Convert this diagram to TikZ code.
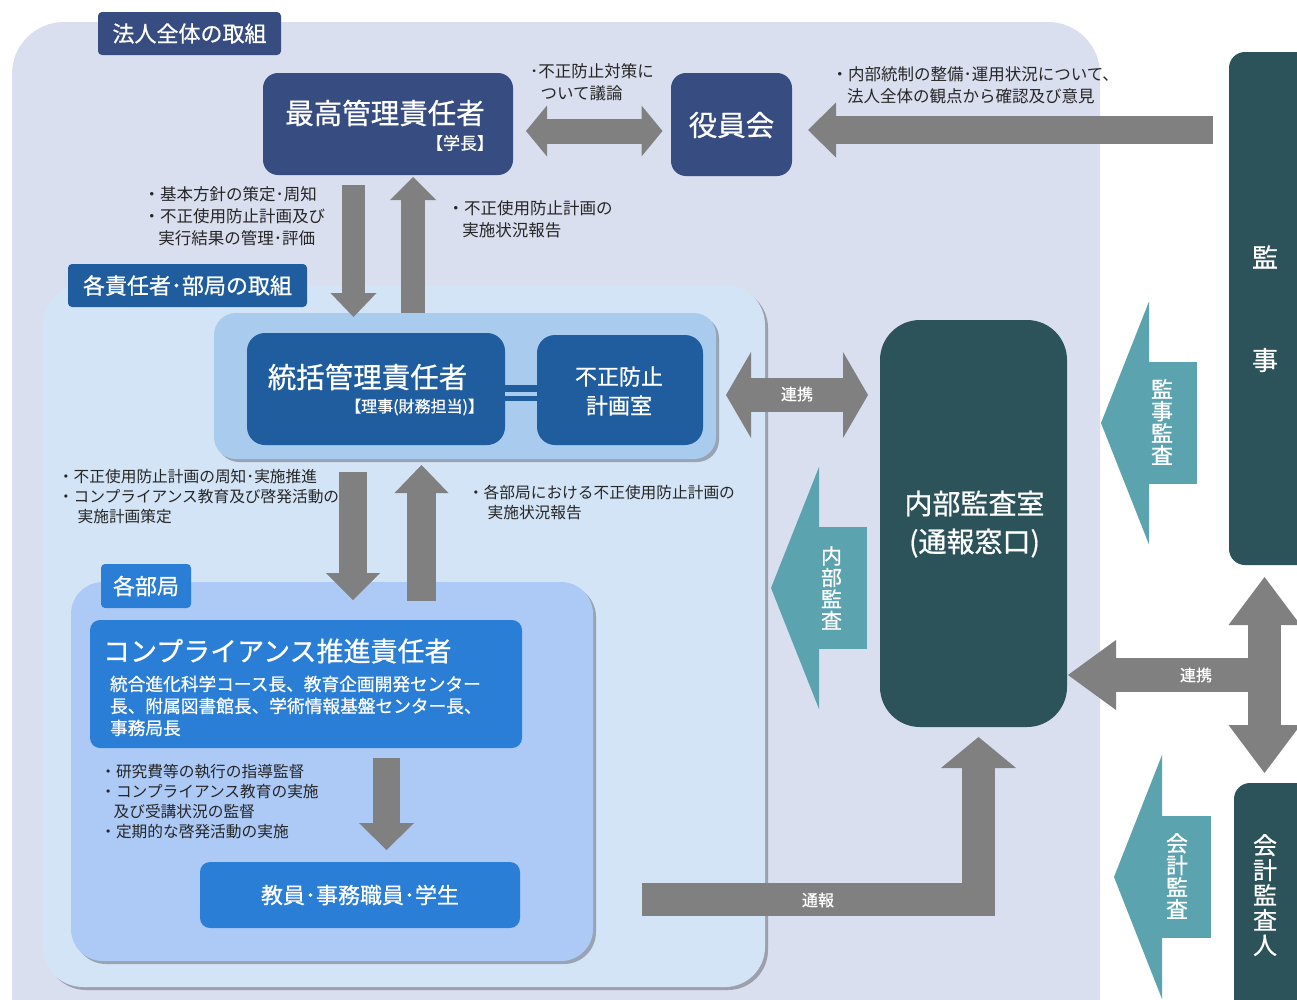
\documentclass[tikz,border=0pt]{standalone}
\usepackage{fontspec}
\setmainfont{Noto Sans CJK JP}
\newfontfamily\wf{Noto Sans CJK JP}[FakeBold=0.7]
\usetikzlibrary{arrows.meta,calc,shadows}
\definecolor{lav}{HTML}{DADFEF}
\definecolor{lblue}{HTML}{D3E4F6}
\definecolor{cblue}{HTML}{A9CBEE}
\definecolor{kblue}{HTML}{ADCAF7}
\definecolor{navy}{HTML}{374C80}
\definecolor{mblue}{HTML}{1F5D9E}
\definecolor{bblue}{HTML}{2B7ED5}
\definecolor{dteal}{HTML}{2C535A}
\definecolor{lteal}{HTML}{5BA3AF}
\definecolor{agray}{HTML}{808080}
\definecolor{txt}{HTML}{262626}
\newcommand{\fsz}[2]{\fontsize{#1}{#2}\selectfont}
\begin{document}
\begin{tikzpicture}[x=1pt,y=-1pt,
  box/.style={draw=none,inner sep=0pt,outer sep=0pt,anchor=north west},
  shad/.style={drop shadow={shadow xshift=3pt,shadow yshift=-3pt,fill=black,opacity=0.28}},
  wt/.style={text=white,inner sep=0pt,outer sep=0pt,execute at begin node=\wf},
  bt/.style={text=txt,inner sep=0pt,outer sep=0pt,align=left,anchor=north west},
  vt/.style={text=white,inner sep=0pt,outer sep=0pt,align=center,execute at begin node=\wf},
  garr/.style={draw=agray,line cap=butt,line join=miter},
  tarr/.style={draw=lteal,line cap=butt,line join=miter,line width=122pt}
]
\clip (0,0) rectangle (1297,999);
\fill[white] (0,0) rectangle (1297,999);

% ---------- background regions ----------
\node[box,fill=lav,rounded corners=52pt,minimum width=1088pt,minimum height=1060pt] (hojin) at (12,22) {};
\node[fill=navy,rounded corners=4pt,inner sep=0pt,minimum width=183pt,minimum height=43pt,wt,font=\fsz{22}{24}] (hojinlab) at (189.5,33.5) {法人全体の取組};

\node[box,fill=dteal,rounded corners=16pt,minimum width=100pt,minimum height=513pt] (kanji) at (1229,52) {};
\node[box,fill=dteal,rounded corners=16pt,minimum width=100pt,minimum height=300pt] (kaikei) at (1234,783) {};

\node[box,fill=lblue,rounded corners=40pt,minimum width=722pt,minimum height=702pt,shad] (kaku) at (43,285) {};
\node[fill=mblue,rounded corners=4pt,inner sep=0pt,minimum width=239pt,minimum height=43pt,wt,font=\fsz{22}{24}] (kakulab) at (187.5,285.5) {各責任者･部局の取組};

% ---------- top level boxes ----------
\node[box,fill=navy,rounded corners=15pt,minimum width=250pt,minimum height=102pt] (saiko) at (263,73) {};
\node[wt,font=\fsz{28.5}{30}] (saikot) at (385,113) {最高管理責任者};
\node[wt,font=\fsz{17}{18},anchor=east] (saikos) at (494,143) {【学長】};

\node[box,fill=navy,rounded corners=15pt,minimum width=121pt,minimum height=103pt] (yakuin) at (671,73) {};
\node[wt,font=\fsz{28.5}{30}] (yakuint) at (731.5,125) {役員会};

% ---------- 統括 ----------
\node[box,fill=cblue,rounded corners=22pt,minimum width=502pt,minimum height=146pt,shad] (sou) at (214,313) {};
\node[box,fill=mblue,rounded corners=18pt,minimum width=258pt,minimum height=112pt] (touk) at (247,333) {};
\node[box,fill=mblue,rounded corners=18pt,minimum width=166pt,minimum height=110pt] (fusei) at (537,335) {};
\fill[mblue] (touk.east |- 0,385) rectangle (fusei.west |- 0,401);
\fill[cblue] (touk.east |- 0,392) rectangle (fusei.west |- 0,395.5);
\node[wt,font=\fsz{28.5}{30}] (toukt) at (367.5,377) {統括管理責任者};
\node[wt,font=\fsz{16}{18},anchor=east] (touks) at (484,407) {【理事(財務担当)】};
\node[vt,font=\fsz{22}{29}] (fuseit) at (619,391) {不正防止\\計画室};

% ---------- 各部局 ----------
\node[box,fill=kblue,rounded corners=32pt,minimum width=522pt,minimum height=379pt,shad] (kakubu) at (71,582) {};
\node[fill=bblue,rounded corners=4pt,inner sep=0pt,minimum width=90pt,minimum height=44pt,wt,font=\fsz{22}{24}] (kakubulab) at (146,586) {各部局};
\node[box,fill=bblue,rounded corners=10pt,minimum width=432pt,minimum height=128pt] (comp) at (90,620) {};
\node[wt,font=\fsz{27}{29},anchor=west] (compt) at (103,651) {コンプライアンス推進責任者};
\node[wt,font=\fsz{17.7}{22},align=left,anchor=north west] (compb) at (110,675.7) {統合進化科学コース長、教育企画開発センター\\長、附属図書館長、学術情報基盤センター長、\\事務局長};
\node[box,fill=bblue,rounded corners=10pt,minimum width=320pt,minimum height=66pt] (kyoin) at (200,862) {};
\node[wt,font=\fsz{22}{24}] (kyoint) at (360,895) {教員･事務職員･学生};

% ---------- 内部監査室 ----------
\node[box,fill=dteal,rounded corners=40pt,minimum width=187pt,minimum height=407pt] (naibu) at (880,320) {};
\node[vt,font=\fsz{28}{38}] (naibut) at (974.5,524) {内部監査室\\(通報窓口)};

% ---------- 監事 / 会計監査人 texts ----------
\node[wt,font=\fsz{26}{28}] (kanji1) at (1265,257) {監};
\node[wt,font=\fsz{26}{28}] (kanji2) at (1265,360) {事};
\node[vt,font=\fsz{24}{25}] (kaikeit) at (1265,895) {会\\計\\監\\査\\人};

% ---------- teal arrows ----------
\coordinate (t1end) at ($(kaku.east)+(6,-48)$);
\draw[tarr,-{Triangle[width=242pt,length=48pt,line width=0pt]}] ($(naibu.west)+(-13,64.5)$) -- (t1end);
\node[vt,font=\fsz{21}{21.5}] (t1t) at (831.5,588) {内\\部\\監\\査};
\draw[tarr,-{Triangle[width=243pt,length=48pt,line width=0pt]}] ($(kanji.west)+(-32,114.5)$) -- ($(naibu.east)+(34,-100.5)$);
\node[vt,font=\fsz{22}{22}] (t2t) at (1162,422) {監\\事\\監\\査};
\coordinate (t3end) at (1114,877);
\draw[tarr,-{Triangle[width=244pt,length=48pt,line width=0pt]}] ($(kaikei.west)+(-23,-56)$) -- (t3end);
\node[vt,font=\fsz{22}{22}] (t3t) at (1177,876) {会\\計\\監\\査};

% ---------- gray arrows ----------
% 最高 <-> 役員会
\draw[garr,line width=25pt,{Triangle[width=51pt,length=21pt,line width=0pt]}-{Triangle[width=51pt,length=21pt,line width=0pt]}]
  ($(saiko.east)+(13,7)$) -- ($(yakuin.west)+(-8.5,6.5)$);
% 監事 -> 役員会
\draw[garr,line width=28pt,-{Triangle[width=55pt,length=28pt,line width=0pt]}]
  ($(kanji.north west)+(-16,78)$) -- ($(yakuin.east)+(16,5.5)$);
% 最高 -> 統括
\draw[garr,line width=23pt,-{Triangle[width=46pt,length=24pt,line width=0pt]}]
  ($(saiko.south)+(-34.5,10)$) -- ($(sou.north)+(-111.5,4)$);
% 統括 -> 最高
\draw[garr,line width=24pt,-{Triangle[width=46pt,length=23pt,line width=0pt]}]
  ($(sou.north)+(-52,0)$) -- ($(saiko.south)+(25,2)$);
% 統括 <-> 内部監査室
\draw[garr,line width=34pt,{Triangle[width=86pt,length=25pt,line width=0pt]}-{Triangle[width=86pt,length=25pt,line width=0pt]}]
  ($(sou.east)+(10,9)$) -- ($(naibu.north west)+(-12,75)$);
\node[wt,font=\fsz{16}{18}] (ren1) at (797,394) {連携};
% 統括 -> 各部局
\draw[garr,line width=28pt,-{Triangle[width=54pt,length=27pt,line width=0pt]}]
  ($(sou.south)+(-112,13)$) -- ($(kakubu.north)+(21,18)$);
% 各部局 -> 統括
\draw[garr,line width=29pt,-{Triangle[width=54pt,length=28pt,line width=0pt]}]
  ($(kakubu.north)+(89.5,19)$) -- ($(sou.south)+(-43.5,6)$);
% コンプライアンス -> 教員
\draw[garr,line width=27pt,-{Triangle[width=55pt,length=27pt,line width=0pt]}]
  ($(comp.south)+(80.5,10)$) -- ($(kyoin.north)+(26.5,-12)$);
% 監事 <-> 会計監査人
\draw[garr,line width=33pt,{Triangle[width=72pt,length=48pt,line width=0pt]}-{Triangle[width=72pt,length=48pt,line width=0pt]}]
  ($(kanji.south)+(-14.5,12)$) -- ($(kaikei.north)+(-19.5,-10)$);
% -> 内部監査室 (連携)
\coordinate (vcross) at (1264.5,675);
\draw[garr,line width=34pt,-{Triangle[width=70pt,length=48pt,line width=0pt]}]
  (vcross) -- ($(naibu.north east)+(1,355)$);
\node[wt,font=\fsz{16}{18}] (ren2) at (1196,675) {連携};
% 通報
\coordinate (tsuho) at (642,899.5);
\draw[garr,line width=33pt,-{Triangle[width=75pt,length=31pt,line width=0pt]}]
  (tsuho) -| ($(naibu.south)+(5,10)$);
\node[wt,font=\fsz{16}{18}] (tsuhot) at (818,900) {通報};

% ---------- black labels ----------
\node[bt,font=\fsz{16.5}{22}] (la) at (143.5,187) {・基本方針の策定･周知\\・不正使用防止計画及び\\\hspace*{0.9em}実行結果の管理･評価};
\node[bt,font=\fsz{16.5}{22}] (lb) at (447.5,201) {・不正使用防止計画の\\\hspace*{0.9em}実施状況報告};
\node[bt,font=\fsz{16.5}{22}] (lc) at (530,64) {･不正防止対策に\\\hspace*{0.65em}ついて議論};
\node[bt,font=\fsz{16.5}{22}] (ld) at (831.5,67) {・内部統制の整備･運用状況について、\\\hspace*{0.95em}法人全体の観点から確認及び意見};
\node[bt,font=\fsz{15.7}{20}] (le) at (58,469.5) {・不正使用防止計画の周知･実施推進\\・コンプライアンス教育及び啓発活動の\\\hspace*{1.25em}実施計画策定};
\node[bt,font=\fsz{15.7}{20}] (lf) at (468,485.5) {・各部局における不正使用防止計画の\\\hspace*{1.25em}実施状況報告};
\node[bt,font=\fsz{15.7}{20}] (lg) at (100.3,764.5) {・研究費等の執行の指導監督\\・コンプライアンス教育の実施\\\hspace*{0.85em}及び受講状況の監督\\・定期的な啓発活動の実施};
\end{tikzpicture}
\end{document}
